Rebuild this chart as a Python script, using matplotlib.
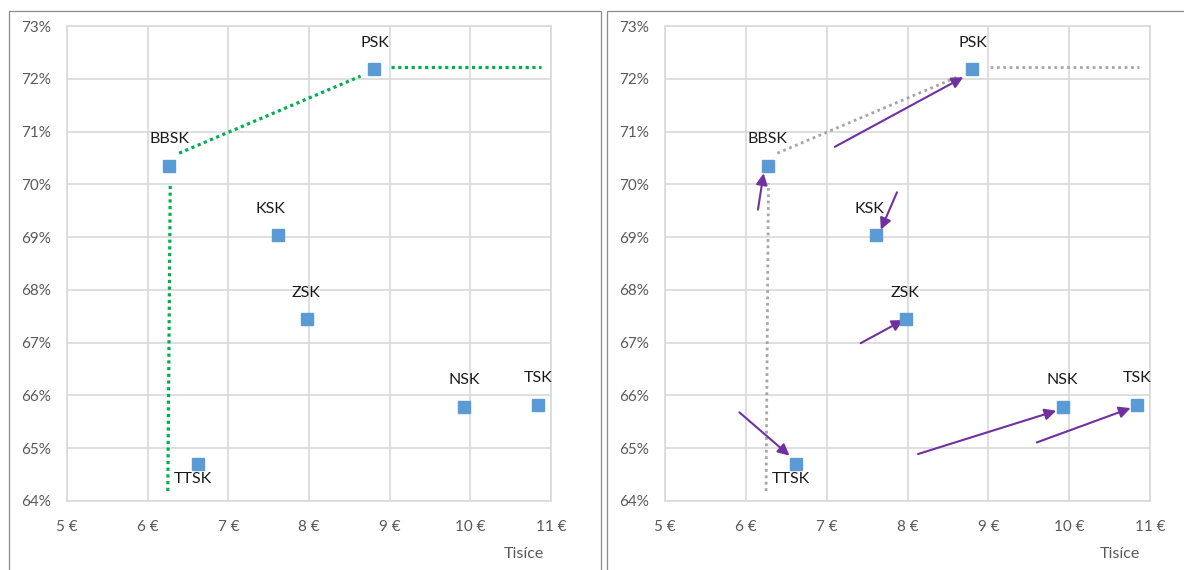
import matplotlib
matplotlib.use("Agg")
import matplotlib.pyplot as plt
from matplotlib.patches import Rectangle
from matplotlib.ticker import FuncFormatter

# Regions: average wage (thousands of EUR) vs. rate (%)
regions = ["PSK", "BBSK", "KSK", "ZSK", "NSK", "TSK", "TTSK"]
wage = [8.80, 6.27, 7.61, 7.98, 9.92, 10.84, 6.62]
rate = [72.18, 70.35, 69.04, 67.45, 65.79, 65.82, 64.71]

# Label offsets (pixels) relative to each marker
label_dx = [1, 0, -7, -1, 0, 0, -5]
label_dy = [26, 27, 26, 26, 27, 27, -15]

# Frontier drawn as three dotted segments
frontier_x = [[6.25, 6.28], [6.39, 8.64], [9.02, 10.87]]
frontier_y = [[64.19, 70.02], [70.59, 72.05], [72.22, 72.22]]

# Shift arrows (start -> end) for the right-hand chart
arrow_x0 = [6.15, 7.10, 7.87, 7.42, 5.92, 8.13, 9.60]
arrow_y0 = [69.52, 70.71, 69.85, 66.99, 65.68, 64.89, 65.11]
arrow_x1 = [6.22, 8.69, 7.67, 7.95, 6.54, 9.84, 10.76]
arrow_y1 = [70.21, 72.03, 69.14, 67.43, 64.86, 65.71, 65.76]

x_ticks = [5, 6, 7, 8, 9, 10, 11]
y_ticks = [64, 65, 66, 67, 68, 69, 70, 71, 72, 73]

W, H = 1184, 570
fig = plt.figure(figsize=(W / 100, H / 100), dpi=100)
plt.rcParams["font.family"] = ["Lato", "DejaVu Sans"]

GRID = "#D9D9D9"
TICK = "#595959"
MARKER = "#5B9BD5"

# Panel frames
for x0, x1 in [(8.5, 600.5), (606.5, 1195)]:
    fig.patches.append(Rectangle((x0 / W, -0.05), (x1 - x0) / W, (H - 10.5) / H + 0.05,
                                 transform=fig.transFigure, fill=False,
                                 edgecolor="#8C8C8C", linewidth=0.9))


def make_axes(left_px, right_px, unit_x):
    ax = fig.add_axes([left_px / W, (H - 501) / H, (right_px - left_px) / W, 475 / H])
    ax.set_xlim(5, 11)
    ax.set_ylim(64, 73)
    ax.set_xticks(x_ticks)
    ax.set_yticks(y_ticks)
    ax.xaxis.set_major_formatter(FuncFormatter(lambda v, p: f"{v:.0f} €"))
    ax.yaxis.set_major_formatter(FuncFormatter(lambda v, p: f"{v:.0f}%"))
    ax.tick_params(length=0, labelsize=11, labelcolor=TICK)
    ax.tick_params(axis="x", pad=13.5)
    ax.tick_params(axis="y", pad=11.5)
    ax.grid(True, color=GRID, linewidth=1.2)
    ax.set_axisbelow(True)
    for s in ax.spines.values():
        s.set_color(GRID)
        s.set_linewidth(1.2)
    ax.text(unit_x, -0.112, "Tisíce", transform=ax.transAxes, ha="center", va="center",
            fontsize=11.5, color=TICK)
    return ax


def draw_points(ax):
    ax.plot(wage, rate, linestyle="none", marker="s", markersize=8.6,
            color=MARKER, zorder=5)
    for name, x, y, dx, dy in zip(regions, wage, rate, label_dx, label_dy):
        ax.annotate(name, (x, y), xytext=(dx, dy), textcoords="offset pixels",
                    ha="center", va="center", fontsize=11.5, color="#1A1A1A", zorder=6)


# Left chart: frontier in green
axl = make_axes(67.0, 551.0, 0.944)
for fx, fy in zip(frontier_x, frontier_y):
    axl.plot(fx, fy, linestyle=(0, (1, 1.1)), color="#00B050", linewidth=2.3, zorder=3)
draw_points(axl)

# Right chart: frontier in gray with shift arrows
axr = make_axes(665.0, 1150.0, 0.938)
for fx, fy in zip(frontier_x, frontier_y):
    axr.plot(fx, fy, linestyle=(0, (1, 1.3)), color="#A6A6A6", linewidth=2.0, zorder=3)
for x0, y0, x1, y1 in zip(arrow_x0, arrow_y0, arrow_x1, arrow_y1):
    axr.annotate("", xy=(x1, y1), xytext=(x0, y0),
                 arrowprops=dict(arrowstyle="-|>", color="#7030A0", lw=1.5,
                                 mutation_scale=17, shrinkA=0, shrinkB=0),
                 zorder=4)
draw_points(axr)

fig.savefig("out.png", dpi=100)
